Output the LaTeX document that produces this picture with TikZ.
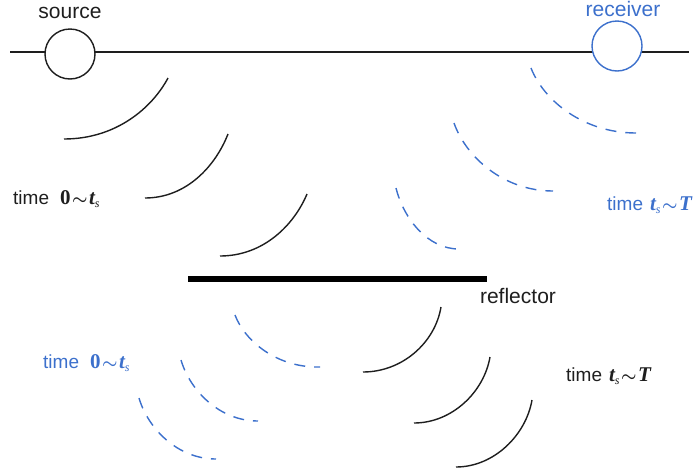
\documentclass[tikz,border=0pt]{standalone}
\usepackage{fontspec}
\usepackage{amsmath}
\setmainfont{Liberation Sans}
\newfontfamily\tnr{Liberation Serif}
\definecolor{wblue}{RGB}{60,112,204}
\definecolor{ink}{RGB}{30,30,30}
\newcommand\tld{\hspace{1.5pt}{\fontsize{17}{17}\selectfont$\boldsymbol{\sim}$}\hspace{1.5pt}}
\newcommand\subs{\raisebox{-0.35ex}{\fontsize{12}{12}\selectfont\mdseries\itshape s}}
\newcommand\timeZeroTs{{\fontsize{19}{19}\selectfont time}\hspace{11pt}{\tnr\fontsize{21}{21}\selectfont\bfseries 0\tld\itshape t\subs}}
\newcommand\timeTsT{{\fontsize{19}{19}\selectfont time}\hspace{7pt}{\tnr\fontsize{21}{21}\selectfont\bfseries\itshape t\subs\tld T}}
\begin{document}
\begin{tikzpicture}[x=1pt,y=-1pt,
  lbl/.style={inner sep=0pt,font=\fontsize{21}{21}\selectfont},
  wave/.style={line width=1.4pt,ink},
  echo/.style={line width=1.4pt,wblue,dash pattern=on 11pt off 9pt},
  station/.style={circle,line width=1.4pt,fill=white,minimum size=50pt,inner sep=0pt}]
\useasboundingbox (0,0) rectangle (699,472);
% surface line
\coordinate (L) at (10,52);
\coordinate (R) at (689,52);
\draw[line width=1.4pt,ink] (L) -- (R);
\node[station,draw=ink] (src) at (70,54) {};
\node[station,draw=wblue] (rcv) at (617,46) {};
\node[lbl,text=ink,anchor=base] (srclbl) at (70,18) {source};
\node[lbl,text=wblue,anchor=base] (rcvlbl) at (623,16) {receiver};
% reflector
\coordinate (r1) at (188,279);
\coordinate (r2) at (487,279);
\draw[line width=6pt] (r1) -- (r2);
\node[lbl,text=ink,anchor=base] (refl) at (518,303) {reflector};
% downgoing wavefronts (solid, top left)
\draw[wave] (64,139) .. controls (116,139) and (152,108) .. (168,78);
\draw[wave] (145,198) .. controls (186.5,198) and (215.5,166) .. (228,134);
\draw[wave] (220,256) .. controls (263.5,256) and (294,225) .. (307,194);
% upgoing wavefronts (dashed, top right)
\draw[echo] (531,68) .. controls (543.6,100.5) and (583.5,133) .. (636,133);
\draw[echo] (454,123) .. controls (466,157) and (503.5,191) .. (553,191);
\draw[echo] (396,188) .. controls (403.6,218.5) and (427.5,249) .. (459,249);
% below reflector, dashed (left)
\draw[echo] (235,315) .. controls (245,341.5) and (277.5,368) .. (320,367);
\draw[echo] (181,360) .. controls (190,390.5) and (219.5,421) .. (258,421);
\draw[echo] (139,398) .. controls (148,428.5) and (177.5,459) .. (216,459);
% below reflector, solid (right)
\draw[wave] (363,372) .. controls (402,372) and (435,343) .. (441,307);
\draw[wave] (414,423) .. controls (452,423) and (484,392) .. (490,357);
\draw[wave] (456,467) .. controls (494,467) and (526,435) .. (532,400);
% time labels
\node[lbl,text=ink,anchor=base west] (t1) at (13,204) {\timeZeroTs};
\node[lbl,text=wblue,anchor=base west] (t2) at (607,210) {\timeTsT};
\node[lbl,text=wblue,anchor=base west] (t3) at (43,368) {\timeZeroTs};
\node[lbl,text=ink,anchor=base west] (t4) at (566,381) {\timeTsT};
\end{tikzpicture}
\end{document}
